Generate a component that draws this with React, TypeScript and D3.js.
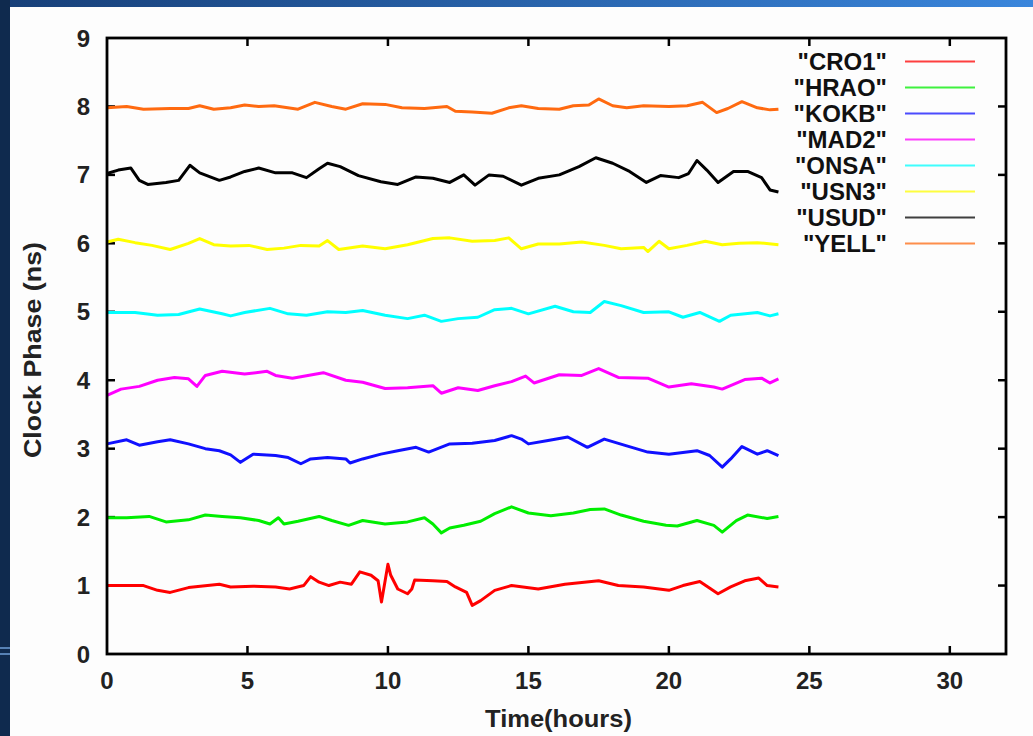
import React, { useEffect, useRef } from 'react';
import * as d3 from 'd3';

// station names, in legend order
const stations = ['"CRO1"', '"HRAO"', '"KOKB"', '"MAD2"', '"ONSA"', '"USN3"', '"USUD"', '"YELL"'];
const colors = ['#ff0000', '#00ee00', '#1010ff', '#ff00ff', '#00ffff', '#ffff00', '#000000', '#ff6a10'];

const xTicks = [0, 5, 10, 15, 20, 25, 30];
const yTicks = [0, 1, 2, 3, 4, 5, 6, 7, 8, 9];

// [hours, clock phase ns]
const cro1: [number, number][] = [
  [0, 1.0], [1.3, 1.0], [1.8, 0.93], [2.25, 0.9], [2.9, 0.97], [4, 1.02], [4.4, 0.98], [5.2, 0.99],
  [6, 0.98], [6.5, 0.95], [7, 1.0], [7.25, 1.13], [7.55, 1.05], [7.9, 1.0], [8.3, 1.05], [8.7, 1.02],
  [9, 1.2], [9.4, 1.15], [9.65, 1.07], [9.77, 0.76], [9.9, 1.07], [10, 1.31], [10.1, 1.15], [10.35, 0.95],
  [10.7, 0.88], [10.85, 0.95], [10.95, 1.08], [11.6, 1.07], [12.1, 1.06], [12.4, 0.98], [12.8, 0.9],
  [13, 0.71], [13.3, 0.78], [13.8, 0.93], [14.4, 1.0], [15.35, 0.95], [16.3, 1.02], [17.5, 1.07],
  [18.2, 1.0], [19.1, 0.98], [20, 0.93], [20.5, 1.0], [21.1, 1.06], [21.75, 0.88], [22.2, 0.98],
  [22.7, 1.07], [23.2, 1.11], [23.5, 1.0], [23.9, 0.98],
];
const hrao: [number, number][] = [
  [0, 1.99], [0.7, 1.99], [1.5, 2.01], [2.1, 1.93], [2.9, 1.96], [3.5, 2.03], [4.1, 2.01], [4.75, 1.99],
  [5.4, 1.95], [5.8, 1.9], [6.1, 1.99], [6.3, 1.9], [6.8, 1.94], [7.55, 2.01], [8, 1.95], [8.6, 1.88],
  [9.1, 1.95], [9.9, 1.9], [10.7, 1.93], [11.3, 1.99], [11.6, 1.9], [11.9, 1.77], [12.2, 1.84],
  [12.7, 1.88], [13.3, 1.94], [13.8, 2.05], [14.4, 2.15], [15, 2.06], [15.8, 2.02], [16.6, 2.06],
  [17.2, 2.11], [17.7, 2.12], [18.3, 2.03], [19.1, 1.94], [19.9, 1.88], [20.3, 1.87], [21, 1.95],
  [21.6, 1.88], [21.9, 1.78], [22.4, 1.95], [22.8, 2.03], [23.5, 1.98], [23.9, 2.01],
];
const kokb: [number, number][] = [
  [0, 3.07], [0.7, 3.13], [1.15, 3.05], [1.8, 3.1], [2.25, 3.13], [2.9, 3.07], [3.5, 3.0], [4, 2.97],
  [4.4, 2.91], [4.75, 2.8], [5.2, 2.92], [6, 2.9], [6.45, 2.87], [6.9, 2.78], [7.25, 2.85], [7.85, 2.87],
  [8.5, 2.85], [8.65, 2.79], [9.1, 2.85], [9.75, 2.92], [10.35, 2.97], [11, 3.02], [11.45, 2.95],
  [12.2, 3.07], [13, 3.08], [13.8, 3.12], [14.4, 3.19], [14.75, 3.14], [15, 3.07], [15.7, 3.12],
  [16.4, 3.17], [17.1, 3.02], [17.7, 3.14], [18.5, 3.04], [19.25, 2.95], [20, 2.92], [21, 2.97],
  [21.45, 2.9], [21.9, 2.73], [22.2, 2.85], [22.6, 3.03], [23.15, 2.92], [23.5, 2.97], [23.9, 2.9],
];
const mad2: [number, number][] = [
  [0, 3.78], [0.5, 3.87], [1.15, 3.91], [1.8, 4.0], [2.4, 4.04], [2.9, 4.02], [3.2, 3.91], [3.5, 4.07],
  [4.1, 4.13], [4.9, 4.09], [5.7, 4.13], [6, 4.07], [6.6, 4.03], [7.7, 4.11], [8.5, 4.0], [9.1, 3.97],
  [9.9, 3.88], [10.7, 3.89], [11.6, 3.92], [11.9, 3.81], [12.5, 3.89], [13.2, 3.85], [13.8, 3.92],
  [14.4, 3.98], [14.9, 4.06], [15.2, 3.96], [16.1, 4.08], [16.9, 4.07], [17.5, 4.17], [18.2, 4.04],
  [19.25, 4.03], [20, 3.9], [20.8, 3.95], [21.6, 3.9], [21.9, 3.87], [22.7, 4.01], [23.3, 4.03],
  [23.6, 3.96], [23.9, 4.02],
];
const onsa: [number, number][] = [
  [0, 4.99], [1, 4.99], [1.8, 4.95], [2.55, 4.96], [3.3, 5.04], [4.1, 4.97], [4.4, 4.94], [4.9, 4.99],
  [5.8, 5.05], [6.45, 4.97], [7.1, 4.95], [7.85, 5.0], [8.5, 4.99], [9.1, 5.02], [9.9, 4.95], [10.7, 4.9],
  [11.3, 4.95], [11.9, 4.86], [12.5, 4.9], [13.2, 4.92], [13.8, 5.03], [14.4, 5.05], [15, 4.97],
  [15.95, 5.08], [16.6, 5.0], [17.2, 4.99], [17.7, 5.15], [18.3, 5.09], [19.1, 4.99], [20, 5.0],
  [20.5, 4.92], [21.1, 4.99], [21.8, 4.86], [22.2, 4.95], [23.15, 4.99], [23.6, 4.94], [23.9, 4.97],
];
const usn3: [number, number][] = [
  [0, 6.02], [0.4, 6.06], [1, 6.01], [1.6, 5.97], [2.25, 5.91], [2.9, 6.0], [3.3, 6.07], [3.8, 5.98],
  [4.4, 5.96], [5.05, 5.97], [5.7, 5.91], [6.3, 5.93], [6.9, 5.97], [7.55, 5.96], [7.85, 6.04],
  [8.25, 5.91], [9.1, 5.96], [9.9, 5.92], [10.7, 5.98], [11.6, 6.07], [12.2, 6.08], [13, 6.03],
  [13.8, 6.04], [14.3, 6.08], [14.75, 5.92], [15.35, 5.99], [16.1, 5.99], [16.9, 6.02], [17.7, 5.97],
  [18.3, 5.92], [19.1, 5.94], [19.25, 5.88], [19.65, 6.03], [20, 5.92], [20.65, 5.97], [21.3, 6.03],
  [21.9, 5.98], [22.5, 6.0], [23.15, 6.01], [23.9, 5.98],
];
const usud: [number, number][] = [
  [0, 7.02], [0.4, 7.07], [0.85, 7.1], [1.15, 6.92], [1.45, 6.86], [2.1, 6.89], [2.55, 6.92],
  [2.95, 7.14], [3.3, 7.03], [4, 6.92], [4.4, 6.97], [4.9, 7.05], [5.4, 7.1], [6, 7.03], [6.6, 7.03],
  [7.1, 6.96], [7.55, 7.09], [7.85, 7.17], [8.3, 7.12], [8.95, 6.99], [9.75, 6.9], [10.35, 6.86],
  [11, 6.97], [11.6, 6.95], [12.2, 6.89], [12.7, 7.0], [13.1, 6.85], [13.6, 7.0], [14.1, 6.98],
  [14.75, 6.85], [15.35, 6.95], [16.1, 7.0], [16.8, 7.12], [17.4, 7.25], [18, 7.17], [18.6, 7.05],
  [19.2, 6.89], [19.7, 6.99], [20.35, 6.96], [20.7, 7.02], [21, 7.21], [21.35, 7.07], [21.75, 6.89],
  [22.3, 7.05], [22.8, 7.05], [23.3, 6.96], [23.6, 6.78], [23.9, 6.75],
];
const yell: [number, number][] = [
  [0, 7.98], [0.7, 8.0], [1.3, 7.96], [2.25, 7.97], [2.9, 7.97], [3.3, 8.01], [3.8, 7.96], [4.4, 7.98],
  [4.9, 8.02], [5.4, 8.0], [5.95, 8.01], [6.8, 7.96], [7.4, 8.06], [8, 8.0], [8.5, 7.96], [9.1, 8.04],
  [9.9, 8.03], [10.5, 7.98], [11.3, 7.97], [12.1, 8.0], [12.4, 7.93], [13, 7.92], [13.7, 7.9],
  [14.3, 7.98], [14.75, 8.01], [15.35, 7.97], [16.1, 7.96], [16.6, 8.01], [17.15, 8.02], [17.5, 8.11],
  [18, 8.01], [18.5, 7.98], [19.1, 8.01], [20, 8.0], [20.65, 8.01], [21.2, 8.06], [21.7, 7.91],
  [22.1, 7.97], [22.6, 8.07], [23.15, 7.98], [23.6, 7.95], [23.9, 7.96],
];
const seriesData = [cro1, hrao, kokb, mad2, onsa, usn3, usud, yell];

function App() {
  const ref = useRef<SVGSVGElement>(null);

  useEffect(() => {
    if (!ref.current) return;
    const W = 1033, H = 736;
    const margin = { top: 38, right: 27, bottom: 82, left: 107 };
    const width = W - margin.left - margin.right;
    const height = H - margin.top - margin.bottom;
    const font = 'Liberation Sans, Arial, sans-serif';

    const root = d3.select(ref.current);
    root.selectAll('*').remove();
    root.attr('width', W).attr('height', H);

    // slide background around the white panel
    const grad = root.append('defs').append('linearGradient').attr('id', 'topband');
    grad.append('stop').attr('offset', '0%').attr('stop-color', '#173f78');
    grad.append('stop').attr('offset', '100%').attr('stop-color', '#3a86dc');
    root.append('rect').attr('width', W).attr('height', H).attr('fill', '#fdfdfd');
    root.append('rect').attr('width', W).attr('height', 7).attr('fill', 'url(#topband)');
    root.append('rect').attr('width', 10).attr('height', H).attr('fill', '#0f2a4e');
    [648, 654].forEach(ly => {
      root.append('line').attr('x1', 0).attr('x2', 10).attr('y1', ly).attr('y2', ly)
        .attr('stroke', '#6f9fd8').attr('stroke-width', 1.5);
    });

    const svg = root.append('g').attr('transform', `translate(${margin.left},${margin.top})`);

    const x = d3.scaleLinear().domain([0, 32]).range([0, width]);
    const y = d3.scaleLinear().domain([0, 9]).range([height, 0]);

    const textStyle = (sel: any, size: number) =>
      sel.style('font-family', font).style('font-size', `${size}px`).style('font-weight', 'bold');

    // ticks inside on all four sides
    const tick = 8;
    svg.selectAll('.xt').data(xTicks.filter(d => d > 0)).join('g').each(function (d) {
      const g = d3.select(this);
      g.append('line').attr('x1', x(d)).attr('x2', x(d)).attr('y1', height).attr('y2', height - tick);
      g.append('line').attr('x1', x(d)).attr('x2', x(d)).attr('y1', 0).attr('y2', tick);
    }).attr('stroke', '#000').attr('stroke-width', 2.5);
    svg.selectAll('.yt').data(yTicks.filter(d => d > 0 && d < 9)).join('g').each(function (d) {
      const g = d3.select(this);
      g.append('line').attr('x1', 0).attr('x2', tick).attr('y1', y(d)).attr('y2', y(d));
      g.append('line').attr('x1', width).attr('x2', width - tick).attr('y1', y(d)).attr('y2', y(d));
    }).attr('stroke', '#000').attr('stroke-width', 2.5);

    svg.selectAll('.xl').data(xTicks).join('text')
      .attr('x', d => x(d)).attr('y', height + 35)
      .attr('text-anchor', 'middle')
      .call(textStyle, 24)
      .attr('fill', '#222').text(d => d);
    svg.selectAll('.yl').data(yTicks).join('text')
      .attr('x', -17).attr('y', d => y(d) + 8.5)
      .attr('text-anchor', 'end')
      .call(textStyle, 24)
      .attr('fill', '#222').text(d => d);

    // series
    const line = d3.line<[number, number]>().x(d => x(d[0])).y(d => y(d[1]));
    seriesData.forEach((s, i) => {
      svg.append('path').datum(s)
        .attr('d', line)
        .attr('fill', 'none')
        .attr('stroke', colors[i])
        .attr('stroke-width', 3)
        .attr('stroke-linejoin', 'round');
    });

    // legend
    const leg = svg.append('g');
    stations.forEach((name, i) => {
      const ly = 23.5 + i * 26;
      leg.append('text')
        .attr('x', 780).attr('y', ly + 8.5)
        .attr('text-anchor', 'end')
        .call(textStyle, 24)
        .attr('fill', '#111').text(name);
      leg.append('line')
        .attr('x1', 798).attr('x2', 868).attr('y1', ly).attr('y2', ly)
        .attr('stroke', colors[i]).attr('stroke-width', 2.2).attr('opacity', 0.75);
    });

    // frame
    svg.append('rect').attr('width', width).attr('height', height)
      .attr('fill', 'none').attr('stroke', '#000').attr('stroke-width', 2.8);

    // axis titles
    svg.append('text')
      .attr('transform', `translate(${-66},${312}) rotate(-90)`)
      .attr('text-anchor', 'middle')
      .attr('textLength', 216).attr('lengthAdjust', 'spacingAndGlyphs')
      .call(textStyle, 24)
      .attr('fill', '#222').text('Clock Phase (ns)');
    svg.append('text')
      .attr('x', 378).attr('y', height + 73)
      .attr('text-anchor', 'start')
      .attr('textLength', 147).attr('lengthAdjust', 'spacingAndGlyphs')
      .call(textStyle, 24)
      .attr('fill', '#222').text('Time(hours)');
  }, []);

  return <svg ref={ref} style={{ position: 'fixed', left: 0, top: 0 }} />;
}

export default App;
